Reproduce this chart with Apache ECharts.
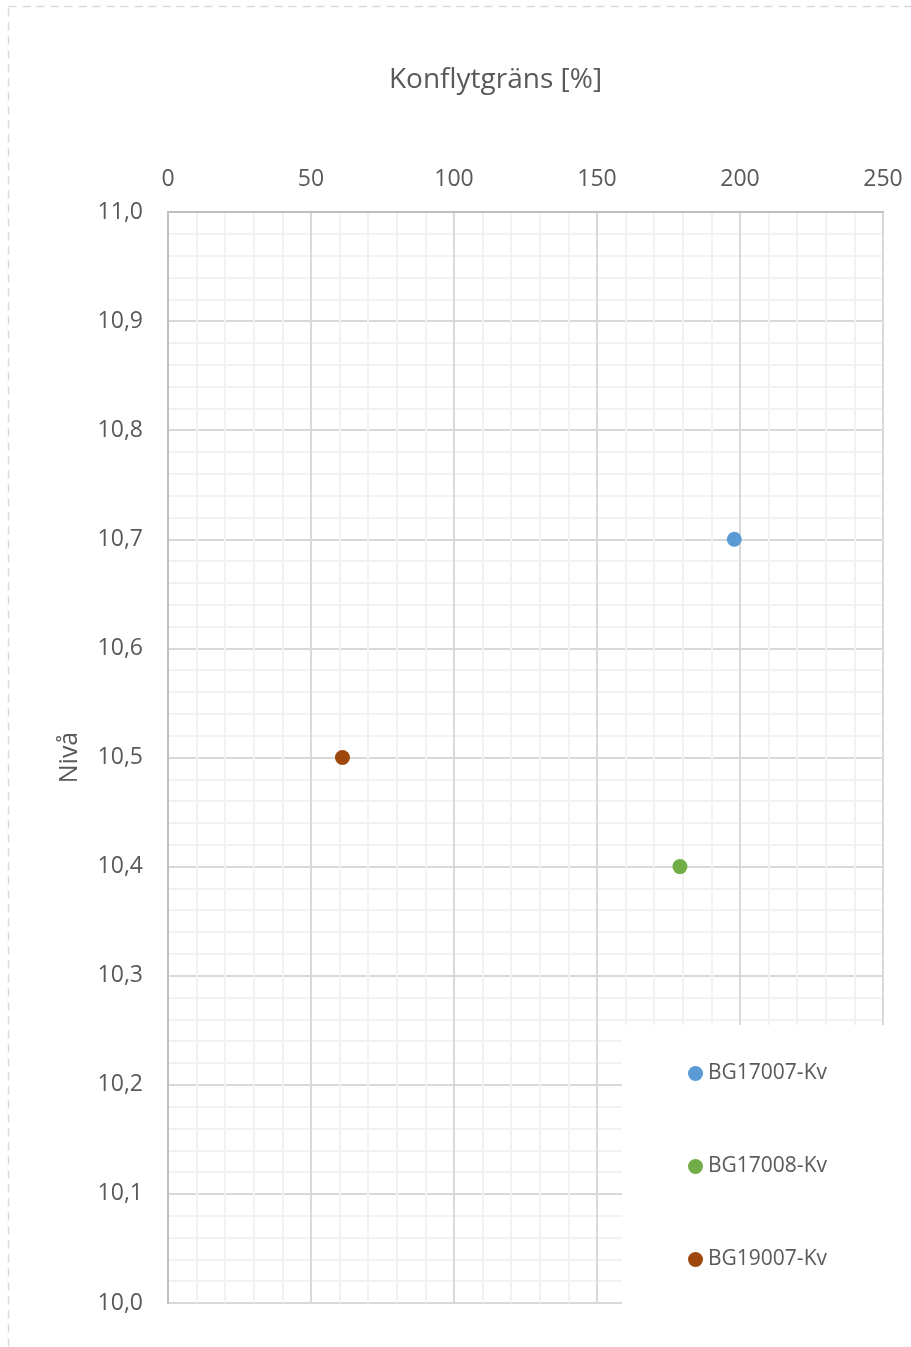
<!DOCTYPE html>
<html>
<head>
<meta charset="utf-8">
<script src="https://cdn.jsdelivr.net/npm/echarts@6/dist/echarts.min.js"></script>
<style>
  html, body { margin: 0; padding: 0; background: #ffffff; }
  #chart { width: 911px; height: 1347px; }
</style>
</head>
<body>
<div id="chart"></div>
<script>
// Konflytgräns per provpunkt och nivå
const seriesNames = ['BG17007-Kv', 'BG17008-Kv', 'BG19007-Kv'];
const konflytgrans = [198, 179, 61];      // %
const niva = [10.7, 10.4, 10.5];
const seriesColors = ['#5B9BD5', '#70AD47', '#9E480E'];

const xAxisTitle = 'Konflytgräns [%]';
const yAxisTitle = 'Nivå';

const FONT = '"Open Sans", "Liberation Sans", sans-serif';
const TEXT = '#595959';

const chart = echarts.init(document.getElementById('chart'), null, { renderer: 'canvas' });

const series = seriesNames.map((name, i) => ({
  name: name,
  type: 'scatter',
  symbol: 'circle',
  symbolSize: 15,
  itemStyle: { color: seriesColors[i], opacity: 1 },
  data: [[konflytgrans[i], niva[i]]],
  z: 5
}));

chart.setOption({
  backgroundColor: '#ffffff',
  animation: false,
  grid: { left: 168, top: 212, width: 715, height: 1091, containLabel: false },
  xAxis: {
    type: 'value',
    position: 'top',
    min: 0, max: 250, interval: 50,
    name: xAxisTitle,
    nameLocation: 'middle',
    nameGap: 118,
    nameTextStyle: { fontFamily: FONT, fontSize: 28, color: TEXT, padding: [0, 60, 0, 0] },
    axisLine: { show: true, lineStyle: { color: '#bfbfbf', width: 2 } },
    axisTick: { show: false },
    axisLabel: { fontFamily: FONT, fontSize: 23, color: TEXT, margin: 21 },
    splitLine: { show: true, lineStyle: { color: '#d9d9d9', width: 2 } },
    minorTick: { show: true, splitNumber: 5, length: 0, lineStyle: { color: 'rgba(0,0,0,0)' } },
    minorSplitLine: { show: true, lineStyle: { color: '#f2f2f2', width: 2 } }
  },
  yAxis: {
    type: 'value',
    min: 10, max: 11, interval: 0.1,
    name: yAxisTitle,
    nameLocation: 'middle',
    nameRotate: 90,
    nameGap: 86,
    nameTextStyle: { fontFamily: FONT, fontSize: 25, color: TEXT },
    axisLine: { show: true, lineStyle: { color: '#bfbfbf', width: 2 } },
    axisTick: { show: false },
    axisLabel: {
      fontFamily: FONT, fontSize: 23, color: TEXT, margin: 25,
      formatter: v => v.toFixed(1).replace('.', ',')
    },
    splitLine: { show: true, lineStyle: { color: '#d9d9d9', width: 2 } },
    minorTick: { show: true, splitNumber: 5, length: 0, lineStyle: { color: 'rgba(0,0,0,0)' } },
    minorSplitLine: { show: true, lineStyle: { color: '#f2f2f2', width: 2 } }
  },
  legend: {
    orient: 'vertical',
    left: 622,
    top: 1025,
    padding: [38, 70, 57, 66],
    backgroundColor: '#ffffff',
    icon: 'circle',
    itemWidth: 15,
    itemHeight: 15,
    itemGap: 72,
    itemStyle: { opacity: 1 },
    textStyle: { fontFamily: FONT, fontSize: 21, color: TEXT, lineHeight: 21 },
    data: seriesNames,
    z: 10
  },
  graphic: [{
    type: 'rect',
    silent: true,
    shape: { x: 8.5, y: 6.5, width: 920, height: 1360 },
    style: { fill: 'none', stroke: '#d9d9d9', lineWidth: 1.5, lineDash: [8, 6] },
    z: 100
  }],
  series: series
});
</script>
</body>
</html>
